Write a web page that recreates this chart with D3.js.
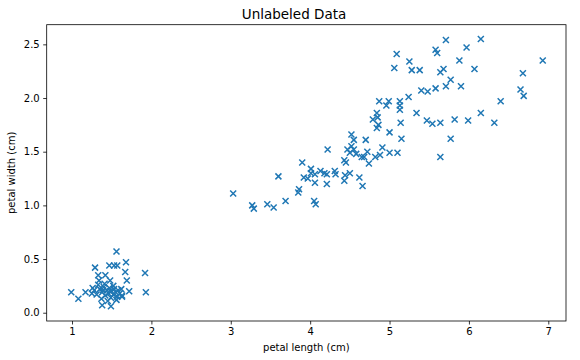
<!DOCTYPE html>
<html>
<head>
<meta charset="utf-8">
<script src="https://cdn.jsdelivr.net/npm/d3@7"></script>
<style>
  html, body { margin: 0; padding: 0; background: #fff; }
  svg { display: block; font-family: "DejaVu Sans", sans-serif; }
</style>
</head>
<body>
<svg id="chart" width="580" height="360"></svg>
<script>
// petal length (cm)
const petalLength = [
  // cluster 1
  0.99,1.08,1.17,1.26,1.29,1.33,1.34,1.38,1.42,1.47,1.48,1.49,1.53,1.56,1.57,1.63,1.67,1.68,1.69,1.72,1.92,1.93,
  1.28,1.31,1.35,1.38,1.40,1.42,1.44,1.46,1.47,1.49,1.50,1.52,1.53,1.55,1.57,1.58,1.60,1.62,1.37,1.45,1.41,1.52,1.33,1.56,1.25,1.63,1.48,1.39,
  // cluster 2, lower part
  3.03,3.27,3.29,3.46,3.54,3.69,3.60,3.86,3.85,4.05,4.07,3.90,3.92,3.97,4.01,4.01,4.06,4.06,4.13,4.21,4.18,4.21,4.31,4.32,
  4.43,4.45,4.44,4.43,4.50,4.62,4.66,4.74,4.82,4.65,4.68,
  // cluster 2, middle
  4.22,4.47,4.52,4.55,4.50,4.58,4.72,4.88,4.91,5.00,5.10,4.52,4.55,4.70,5.00,5.15,4.79,4.84,4.85,4.86,4.84,5.14,
  4.87,4.96,4.99,5.13,5.13,5.13,5.34,5.47,5.54,5.64,5.82,5.99,6.15,6.32,5.77,5.64,
  // cluster 2, upper
  5.71,5.97,5.58,5.60,5.09,5.88,5.25,5.06,5.28,5.38,5.64,5.68,5.77,5.71,5.90,5.58,5.40,5.48,5.24,6.15,6.93,6.07,6.68,6.65,6.69,6.40
];
// petal width (cm)
const petalWidth = [
  0.19,0.13,0.19,0.23,0.42,0.35,0.30,0.07,0.35,0.44,0.30,0.06,0.44,0.57,0.44,0.15,0.38,0.47,0.30,0.20,0.37,0.19,
  0.21,0.17,0.22,0.19,0.24,0.16,0.21,0.18,0.23,0.14,0.20,0.17,0.22,0.19,0.15,0.21,0.18,0.22,0.13,0.11,0.27,0.25,0.26,0.12,0.18,0.16,0.20,0.21,
  1.11,1.00,0.97,1.01,0.98,1.04,1.27,1.15,1.12,1.04,1.01,1.40,1.26,1.25,1.34,1.30,1.29,1.21,1.32,1.29,1.30,1.20,1.32,1.29,
  1.42,1.40,1.28,1.23,1.30,1.26,1.18,1.39,1.45,1.45,1.45,
  1.52,1.52,1.55,1.52,1.49,1.48,1.50,1.47,1.54,1.49,1.49,1.66,1.61,1.61,1.68,1.62,1.80,1.86,1.82,1.75,1.72,1.77,
  1.97,1.93,1.97,1.97,1.93,1.89,1.86,1.79,1.76,1.77,1.80,1.79,1.86,1.77,1.62,1.45,
  2.54,2.47,2.45,2.42,2.41,2.35,2.34,2.28,2.26,2.26,2.24,2.27,2.17,2.11,2.11,2.09,2.07,2.06,2.01,2.55,2.35,2.27,2.23,2.08,2.02,1.97
];
const xTicks = [1, 2, 3, 4, 5, 6, 7];
const yTicks = [0.0, 0.5, 1.0, 1.5, 2.0, 2.5];
const xDomain = [0.681, 7.223];
const yDomain = [-0.077, 2.683];

(function () {
  const points = petalLength.map((v, i) => ({x: v, y: petalWidth[i]}));

  const svg = d3.select("#chart");
  const mLeft = 46.7, mRight = 566, mTop = 24.7, mBottom = 321;

  const x = d3.scaleLinear().domain(xDomain).range([mLeft, mRight]);
  const y = d3.scaleLinear().domain(yDomain).range([mBottom, mTop]);

  // points
  const s = 3;
  svg.append("g").selectAll("path.pt")
    .data(points)
    .enter().append("path")
    .attr("class", "pt")
    .attr("transform", d => `translate(${x(d.x)},${y(d.y)})`)
    .attr("d", `M${-s},${-s}L${s},${s}M${-s},${s}L${s},${-s}`)
    .attr("stroke", "#1f77b4")
    .attr("stroke-width", 1.5)
    .attr("fill", "none");

  // axes
  const xAxis = d3.axisBottom(x).tickValues(xTicks).tickFormat(d3.format("d")).tickSize(3.5).tickPadding(3.5);
  const yAxis = d3.axisLeft(y).tickValues(yTicks).tickFormat(d3.format(".1f")).tickSize(3.5).tickPadding(3.5);

  const gx = svg.append("g").attr("transform", `translate(0,${mBottom})`).call(xAxis);
  const gy = svg.append("g").attr("transform", `translate(${mLeft},0)`).call(yAxis);
  [gx, gy].forEach(a => {
    a.select(".domain").remove();
    a.selectAll(".tick line").attr("stroke", "#000").attr("stroke-width", 0.8);
    a.selectAll(".tick text").attr("fill", "#000").style("font-size", "10px").style("font-family", "DejaVu Sans, sans-serif");
  });

  // frame
  svg.append("rect")
    .attr("x", mLeft).attr("y", mTop)
    .attr("width", mRight - mLeft).attr("height", mBottom - mTop)
    .attr("fill", "none").attr("stroke", "#000").attr("stroke-width", 0.8);

  // title and labels
  svg.append("text")
    .attr("x", 294).attr("y", 19)
    .attr("text-anchor", "middle")
    .style("font-size", "13.5px").attr("fill", "#000")
    .text("Unlabeled Data");

  svg.append("text")
    .attr("x", (mLeft + mRight) / 2).attr("y", 351)
    .attr("text-anchor", "middle")
    .style("font-size", "10px").attr("fill", "#000")
    .text("petal length (cm)");

  svg.append("text")
    .attr("transform", `translate(14.5,${(mTop + mBottom) / 2}) rotate(-90)`)
    .attr("text-anchor", "middle")
    .style("font-size", "10px").attr("fill", "#000")
    .text("petal width (cm)");
})();
</script>
</body>
</html>
